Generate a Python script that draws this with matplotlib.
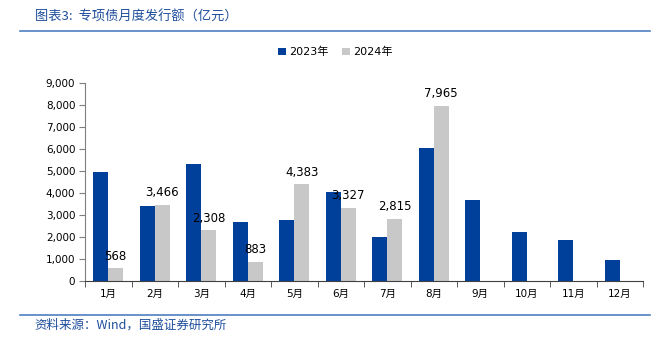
import numpy as np
import matplotlib
matplotlib.use('Agg')
import matplotlib.pyplot as plt
import matplotlib.ticker as mticker
from matplotlib.lines import Line2D

plt.rcParams['font.family'] = ['DejaVu Sans', 'Noto Sans CJK SC']

# ── Dati (亿元) ────────────────────────────────────────────────────────────────
months = ['1月', '2月', '3月', '4月', '5月', '6月', '7月', '8月', '9月', '10月', '11月', '12月']
vals_2023 = [4930, 3390, 5320, 2670, 2790, 4060, 1990, 6030, 3660, 2220, 1870, 960]
vals_2024 = [568, 3466, 2308, 883, 4383, 3327, 2815, 7965]

BLUE  = '#00409a'
GRAY  = '#c8c8c8'
TITLE = '#1f4e9c'
AXC   = '#7f7f7f'
CJK   = ['Noto Sans CJK SC', 'DejaVu Sans']

fig = plt.figure(figsize=(6.71, 3.51), dpi=100)
ax = fig.add_axes([0.1267, 0.1994, 0.8316, 0.565])

x = np.arange(len(months))
w = 0.32
ax.bar(x - w / 2, vals_2023, width=w, color=BLUE, label='2023年', zorder=2)
x24 = np.arange(len(vals_2024))
ax.bar(x24 + w / 2, vals_2024, width=w, color=GRAY, label='2024年', zorder=2)

for xi, v in zip(x24, vals_2024):
    ax.text(xi + w / 2, v + 250, f'{v:,}', ha='center', va='bottom', fontsize=8.5, color='black')

ax.set_xlim(-0.5, len(months) - 0.5)
ax.set_ylim(0, 9000)
ax.yaxis.set_major_locator(mticker.MultipleLocator(1000))
ax.yaxis.set_major_formatter(mticker.FuncFormatter(lambda v, _: f'{int(v):,}'))

ax.set_xticks(x)
ax.set_xticklabels(months, fontsize=7.5)
ax.set_xticks(np.arange(-0.5, len(months)), minor=True)
ax.tick_params(axis='x', which='major', length=0, pad=6)
ax.tick_params(axis='x', which='minor', length=4, color='#404040', direction='out')
ax.tick_params(axis='y', labelsize=7.5, length=4, color=AXC, direction='out', pad=3)

for s in ['top', 'right']:
    ax.spines[s].set_visible(False)
ax.spines['left'].set_color(AXC)
ax.spines['bottom'].set_color('#404040')

ax.legend(loc='center', bbox_to_anchor=(0.5, 0.851), bbox_transform=fig.transFigure,
          ncol=2, frameon=False, fontsize=8, handlelength=0.7, handleheight=0.7,
          handletextpad=0.3, columnspacing=1.2)

fig.text(0.052, 0.952, '图表3:  专项债月度发行额（亿元）', fontsize=9.5, color=TITLE,
         family=CJK, ha='left', va='center')
fig.text(0.052, 0.075, '资料来源：Wind，国盛证券研究所', fontsize=9, color=TITLE,
         family=CJK, ha='left', va='center')

fig.add_artist(Line2D([0.03, 0.968], [1 - 31 / 351] * 2, transform=fig.transFigure,
                      color='#4f7fc0', linewidth=1.2))
fig.add_artist(Line2D([0.03, 0.968], [1 - 314.5 / 351] * 2, transform=fig.transFigure,
                      color='#4f7fc0', linewidth=1.2))

fig.savefig('out.png', dpi=100, facecolor='white')
